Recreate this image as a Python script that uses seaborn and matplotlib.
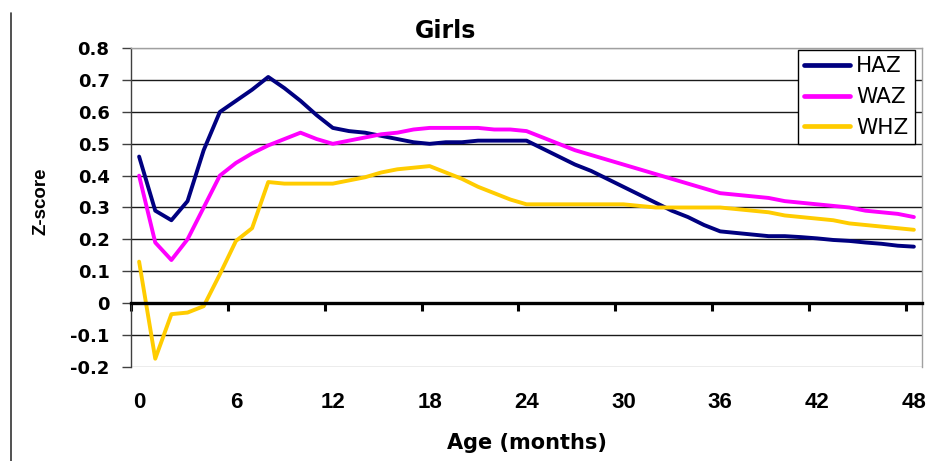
import numpy as np
import pandas as pd
import matplotlib
matplotlib.use("Agg")
import matplotlib.pyplot as plt
from matplotlib.lines import Line2D
import seaborn as sns

# z-scores by age (months)
age = list(range(0, 49))
haz = [0.46, 0.29, 0.26, 0.32, 0.48, 0.60, 0.635, 0.67, 0.71, 0.675,
       0.635, 0.59, 0.55, 0.54, 0.535, 0.525, 0.515, 0.505, 0.50, 0.505,
       0.505, 0.51, 0.51, 0.51, 0.51, 0.485, 0.46, 0.435, 0.415, 0.39,
       0.365, 0.34, 0.315, 0.29, 0.27, 0.245, 0.225, 0.22, 0.215, 0.21,
       0.21, 0.207, 0.203, 0.198, 0.195, 0.19, 0.186, 0.18, 0.177]
waz = [0.40, 0.19, 0.135, 0.20, 0.30, 0.40, 0.44, 0.47, 0.495, 0.515,
       0.535, 0.515, 0.50, 0.51, 0.52, 0.53, 0.535, 0.545, 0.55, 0.55,
       0.55, 0.55, 0.545, 0.545, 0.54, 0.52, 0.50, 0.48, 0.465, 0.45,
       0.435, 0.42, 0.405, 0.39, 0.375, 0.36, 0.345, 0.34, 0.335, 0.33,
       0.32, 0.315, 0.31, 0.305, 0.30, 0.29, 0.285, 0.28, 0.27]
whz = [0.13, -0.175, -0.035, -0.03, -0.01, 0.09, 0.195, 0.235, 0.38, 0.375,
       0.375, 0.375, 0.375, 0.385, 0.395, 0.41, 0.42, 0.425, 0.43, 0.41,
       0.39, 0.365, 0.345, 0.325, 0.31, 0.31, 0.31, 0.31, 0.31, 0.31,
       0.31, 0.305, 0.30, 0.30, 0.30, 0.30, 0.30, 0.295, 0.29, 0.285,
       0.275, 0.27, 0.265, 0.26, 0.25, 0.245, 0.24, 0.235, 0.23]

series = ["HAZ", "WAZ", "WHZ"]
colors = ["#000080", "#FF00FF", "#FFCC00"]
x_ticks = list(range(0, 49, 6))
y_ticks = [-0.2, -0.1, 0, 0.1, 0.2, 0.3, 0.4, 0.5, 0.6, 0.7, 0.8]
y_labels = ["-0.2", "-0.1", "0", "0.1", "0.2", "0.3", "0.4", "0.5", "0.6", "0.7", "0.8"]

df = pd.DataFrame({
    "Age": age * 3,
    "Z": haz + waz + whz,
    "Index": np.repeat(series, len(age)),
})

sns.set_style("white")
plt.rcParams["text.color"] = "black"
plt.rcParams["xtick.color"] = "black"
plt.rcParams["ytick.color"] = "black"

fig = plt.figure(figsize=(9.36, 4.61), dpi=100)
ax = fig.add_axes([0.140, 0.2046, 0.845, 0.6906])

sns.lineplot(data=df, x="Age", y="Z", hue="Index", hue_order=series,
             palette=colors, linewidth=2.8, legend=False, ax=ax)
for ln in ax.lines:
    ln.set_solid_joinstyle("round")
    ln.set_solid_capstyle("round")

leg = ax.legend(ax.lines[:3], series, loc="upper right",
                bbox_to_anchor=(0.991, 0.995), borderaxespad=0,
                frameon=True, fancybox=False, framealpha=1,
                edgecolor="black", prop={"family": "DejaVu Sans", "size": 15.5},
                handlelength=2.1, handletextpad=0.3, labelspacing=0.5,
                borderpad=0.3)
leg.get_frame().set_linewidth(1.0)
for h in leg.get_lines():
    h.set_linewidth(3.4)
for t in leg.get_texts():
    t.set_color("black")

ax.set_xlim(-0.5, 48.5)
ax.set_ylim(-0.2, 0.8)
ax.set_xlabel("")
ax.set_ylabel("")

# x axis crosses at zero; tick marks between categories, labels at the bottom
ax.spines["bottom"].set_position(("data", 0))
ax.spines["bottom"].set_linewidth(2.4)
ax.spines["bottom"].set_color("black")
ax.spines["left"].set_color("#404040")
ax.spines["left"].set_linewidth(1.0)
for s in ["top", "right"]:
    ax.spines[s].set_color("#a0a0a0")
    ax.spines[s].set_linewidth(1.0)

ax.set_xticks(x_ticks, labels=[str(t) for t in x_ticks], fontsize=16,
              fontweight="bold", family="Liberation Sans")
ax.set_xticks(np.arange(-0.5, 48, 6), minor=True)
ax.tick_params(axis="x", which="both", bottom=True)
ax.tick_params(axis="x", which="major", length=0, pad=64, labelcolor="black")
ax.tick_params(axis="x", which="minor", length=5.5, width=2.2, color="black",
               direction="out")

ax.set_yticks(y_ticks, labels=y_labels, fontsize=13, fontweight="bold",
              family="DejaVu Sans")
ax.tick_params(axis="y", which="major", left=True, length=6.5, width=1,
               color="#404040", pad=9, direction="out", labelcolor="black")

ax.grid(axis="y", color="#1a1a1a", linewidth=1.0)
ax.grid(axis="x", visible=False)
ax.set_axisbelow(True)
gl = ax.get_ygridlines()
gl[0].set_color("#a0a0a0")
gl[-1].set_color("#a0a0a0")

fig.text(0.4765, 0.917, "Girls", ha="center", va="baseline", fontsize=17,
         fontweight="bold", family="DejaVu Sans")
fig.text(0.5625, 0.026, "Age (months)", ha="center", va="baseline",
         fontsize=15, fontweight="bold", family="DejaVu Sans")
fig.text(0.0438, 0.5625, "Z-score", rotation=90, ha="center", va="center",
         fontsize=13.5, fontweight="bold", family="Liberation Sans")

fig.add_artist(Line2D([10.5 / 936, 10.5 / 936], [0, 0.972],
                      transform=fig.transFigure, color="#333333", lw=1.2))

fig.savefig("out.png", dpi=100)
